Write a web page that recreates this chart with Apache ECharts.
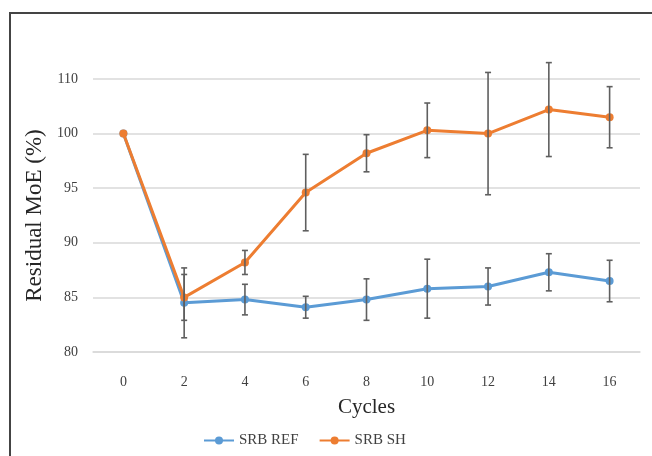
<!DOCTYPE html>
<html>
<head>
<meta charset="utf-8">
<script src="https://cdn.jsdelivr.net/npm/echarts@6/dist/echarts.min.js"></script>
<style>
  html, body { margin: 0; padding: 0; background: #fff; }
  #main { width: 652px; height: 456px; }
</style>
</head>
<body>
<div id="main"></div>
<script>
// 数据
var cycles = ['0', '2', '4', '6', '8', '10', '12', '14', '16'];
var refValues = [100, 84.5, 84.8, 84.1, 84.8, 85.8, 86.0, 87.3, 86.5];
var refErrors = [0, 3.2, 1.4, 1.0, 1.9, 2.7, 1.7, 1.7, 1.9];
var shValues = [100, 85.0, 88.2, 94.6, 98.2, 100.3, 100.0, 102.2, 101.5];
var shErrors = [0, 2.1, 1.1, 3.5, 1.7, 2.5, 5.6, 4.3, 2.8];
// 纵轴刻度标签（原图最上面一格写的是 110）
var yTicks = [80, 85, 90, 95, 100, 105];
var yTickLabels = ['80', '85', '90', '95', '100', '110'];

var myChart = echarts.init(document.getElementById('main'));

function errData(values, errors) {
    var out = [];
    for (var i = 0; i < values.length; i++) {
        if (errors[i] > 0) {
            out.push([i, values[i] - errors[i], values[i] + errors[i]]);
        }
    }
    return out;
}

function renderErr(params, api) {
    var x = api.value(0);
    var lo = api.coord([x, api.value(1)]);
    var hi = api.coord([x, api.value(2)]);
    var w = 3;
    var style = { stroke: '#5f5f5f', lineWidth: 1.6 };
    return {
        type: 'group',
        children: [
            { type: 'line', shape: { x1: hi[0], y1: hi[1], x2: lo[0], y2: lo[1] }, style: style },
            { type: 'line', shape: { x1: hi[0] - w, y1: hi[1], x2: hi[0] + w, y2: hi[1] }, style: style },
            { type: 'line', shape: { x1: lo[0] - w, y1: lo[1], x2: lo[0] + w, y2: lo[1] }, style: style }
        ]
    };
}

var font = '"Liberation Serif", "Times New Roman", serif';

option = {
    animation: false,
    textStyle: { fontFamily: font },
    graphic: [{
        type: 'polyline',
        shape: { points: [[10, 456], [10, 13], [652, 13]] },
        style: { stroke: '#444', lineWidth: 2, fill: null }
    }],
    grid: {
        left: 93,
        right: 12,
        top: 79,
        bottom: 104
    },
    legend: {
        left: 198,
        top: 428,
        itemWidth: 30,
        itemHeight: 10,
        itemGap: 20,
        textStyle: { fontFamily: font, fontSize: 15, color: '#404040' },
        data: ['SRB REF', 'SRB SH']
    },
    xAxis: {
        type: 'category',
        data: cycles,
        boundaryGap: true,
        name: 'Cycles',
        nameLocation: 'middle',
        nameGap: 45,
        nameTextStyle: { fontFamily: font, fontSize: 21, color: '#262626' },
        axisLine: { show: true, lineStyle: { color: '#d9d9d9', width: 1.5 } },
        axisTick: { show: false },
        axisLabel: { margin: 23, fontFamily: font, fontSize: 14, color: '#404040' }
    },
    yAxis: {
        type: 'value',
        min: 80,
        max: 105,
        interval: 5,
        name: 'Residual MoE (%)',
        nameLocation: 'middle',
        nameGap: 47,
        nameTextStyle: { fontFamily: font, fontSize: 23, color: '#262626' },
        axisLine: { show: false },
        axisTick: { show: false },
        splitLine: { lineStyle: { color: '#d9d9d9', width: 1.5 } },
        axisLabel: {
            margin: 15,
            fontFamily: font,
            fontSize: 14,
            color: '#404040',
            formatter: function (v) {
                var k = yTicks.indexOf(v);
                return k >= 0 ? yTickLabels[k] : '';
            }
        }
    },
    series: [{
        name: 'SRB REF',
        type: 'line',
        data: refValues,
        symbol: 'circle',
        symbolSize: 8,
        itemStyle: { color: '#5b9bd5' },
        lineStyle: { color: '#5b9bd5', width: 3 },
        z: 3
    }, {
        name: 'SRB SH',
        type: 'line',
        data: shValues,
        symbol: 'circle',
        symbolSize: 8,
        itemStyle: { color: '#ed7d31' },
        lineStyle: { color: '#ed7d31', width: 3 },
        z: 4
    }, {
        type: 'custom',
        renderItem: renderErr,
        data: errData(refValues, refErrors),
        encode: { x: 0, y: [1, 2] },
        silent: true,
        z: 5
    }, {
        type: 'custom',
        renderItem: renderErr,
        data: errData(shValues, shErrors),
        encode: { x: 0, y: [1, 2] },
        silent: true,
        z: 5
    }]
};

myChart.setOption(option);
</script>
</body>
</html>
